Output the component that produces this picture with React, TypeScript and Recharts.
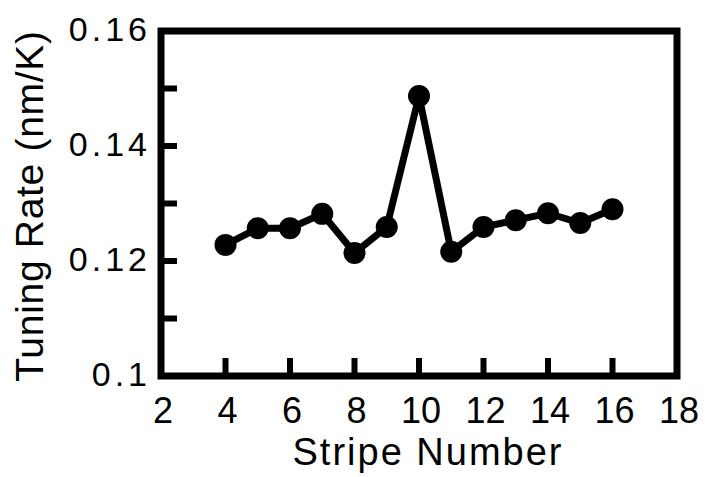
import React from 'react';
import { LineChart, Line, XAxis, YAxis, ReferenceArea } from 'recharts';

const stripeNumbers = [4, 5, 6, 7, 8, 9, 10, 11, 12, 13, 14, 15, 16];
const tuningRates = [0.1228, 0.1257, 0.1257, 0.1282, 0.1214, 0.1259, 0.1487, 0.1216, 0.1259, 0.1271, 0.1283, 0.1266, 0.129];
const xTicks = [2, 4, 6, 8, 10, 12, 14, 16, 18];
const yTicks = [0.1, 0.11, 0.12, 0.13, 0.14, 0.15, 0.16];
const yLabeled = [0.1, 0.12, 0.14, 0.16];
const xTitle = 'Stripe Number';
const yTitle = 'Tuning Rate (nm/K)';

const data = stripeNumbers.map((s, i) => ({ stripe: s, rate: tuningRates[i] }));

const FONT = '"Liberation Sans", Arial, Helvetica, sans-serif';
const Y_MARGIN = 14;

const YTick = (props: any) => {
  const { x, y, payload } = props;
  const v = payload.value;
  const axisX = x + Y_MARGIN;
  const inner = v > 0.1001 && v < 0.1599;
  const labeled = yLabeled.some((l) => Math.abs(l - v) < 1e-6);
  return (
    <g>
      {inner && <line x1={axisX} x2={axisX + 16} y1={y} y2={y} stroke="#000" strokeWidth={6} />}
      {labeled && (
        <text x={x + 4} y={y} dy="0.3em" textAnchor="end" fontFamily={FONT} fontSize={34} letterSpacing={4} fill="#000">
          {String(v)}
        </text>
      )}
    </g>
  );
};

const XTick = (props: any) => {
  const { x, y, payload } = props;
  const v = payload.value;
  const inner = v > 2 && v < 18;
  return (
    <g>
      {inner && <line x1={x} x2={x} y1={y} y2={y - 18} stroke="#000" strokeWidth={6} />}
      <text x={x + 2} y={y + 47} textAnchor="middle" fontFamily={FONT} fontSize={36} fill="#000">
        {String(v)}
      </text>
    </g>
  );
};

const XTitle = () => (
  <text x={428} y={465} textAnchor="middle" fontFamily={FONT} fontSize={38} letterSpacing={2} fill="#000">
    {xTitle}
  </text>
);

const YTitle = () => (
  <text x={43} y={206} transform="rotate(-90, 43, 206)" textAnchor="middle" fontFamily={FONT} fontSize={39} letterSpacing={0.7} fill="#000">
    {yTitle}
  </text>
);

export default function App() {
  return (
    <div style={{ position: 'absolute', left: 0, top: 0, width: 709, height: 477, background: '#fff' }}>
      <LineChart width={709} height={477} data={data} margin={{ top: 31, right: 32, bottom: 0, left: 0 }}>
        <XAxis
          type="number"
          dataKey="stripe"
          domain={[2, 18]}
          ticks={xTicks}
          interval={0}
          height={101}
          tickSize={0}
          tickMargin={0}
          axisLine={false}
          tickLine={false}
          tick={<XTick />}
          label={<XTitle />}
        />
        <YAxis
          type="number"
          domain={[0.1, 0.16]}
          ticks={yTicks}
          interval={0}
          width={161}
          tickSize={0}
          tickMargin={Y_MARGIN}
          axisLine={false}
          tickLine={false}
          tick={<YTick />}
          label={<YTitle />}
        />
        <ReferenceArea x1={2} x2={18} y1={0.1} y2={0.16} fill="none" fillOpacity={0} stroke="#000" strokeWidth={7} ifOverflow="visible" />
        <Line
          type="linear"
          dataKey="rate"
          stroke="#000"
          strokeWidth={7}
          dot={{ r: 11, fill: '#000', stroke: 'none' }}
          activeDot={false}
          isAnimationActive={false}
        />
      </LineChart>
    </div>
  );
}
